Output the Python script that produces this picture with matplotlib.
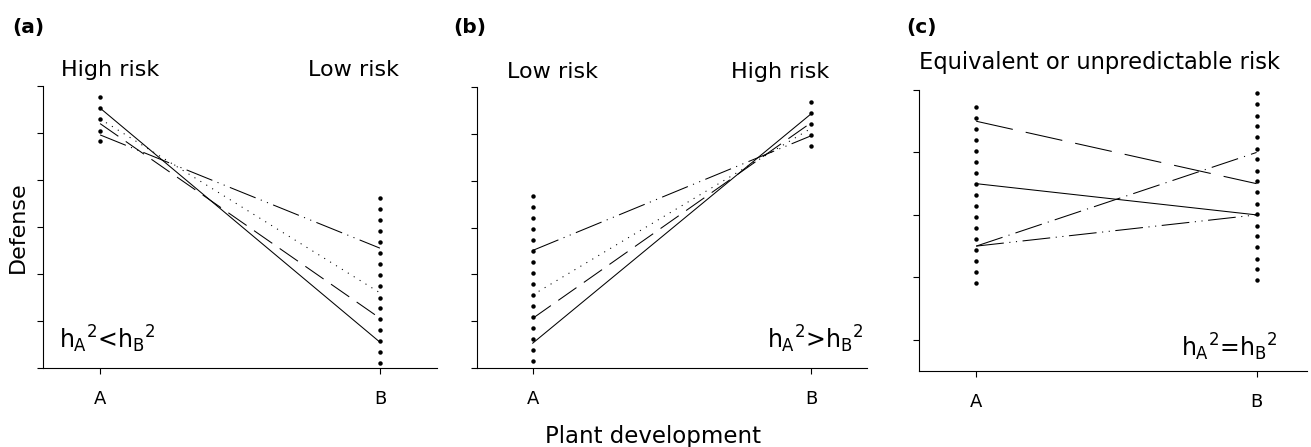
import matplotlib.pyplot as plt

plt.rcParams['font.family'] = ['DejaVu Sans']
plt.rcParams['mathtext.fontset'] = 'custom'
plt.rcParams['mathtext.rm'] = 'DejaVu Sans'
plt.rcParams['mathtext.it'] = 'DejaVu Sans'
plt.rcParams['mathtext.bf'] = 'DejaVu Sans:bold'
plt.rcParams['lines.scale_dashes'] = False

stages = ['A', 'B']

# (a) high risk at A, low risk at B
a_dots_A = [5.76, 5.53, 5.29, 5.05, 4.82]
a_dots_B = [3.61, 3.38, 3.14, 2.91, 2.68, 2.44, 2.21, 1.97, 1.74, 1.50,
            1.27, 1.04, 0.80, 0.57, 0.33, 0.10]
a_solid = [5.53, 0.55]
a_dotted = [5.30, 1.60]
a_dashed = [5.20, 1.06]
a_dashdotdot = [4.96, 2.55]

# (b) low risk at A, high risk at B
b_dots_A = [3.67, 3.43, 3.20, 2.96, 2.73, 2.50, 2.26, 2.03, 1.79, 1.56,
            1.33, 1.09, 0.86, 0.62, 0.39, 0.16]
b_dots_B = [5.68, 5.45, 5.21, 4.97, 4.74]
b_solid = [0.53, 5.43]
b_dotted = [1.56, 5.12]
b_dashed = [1.06, 5.24]
b_dashdotdot = [2.51, 4.96]

# (c) equivalent or unpredictable risk
c_dots_A = [4.73, 4.55, 4.38, 4.20, 4.02, 3.85, 3.67, 3.50, 3.32, 3.14,
            2.97, 2.79, 2.61, 2.44, 2.26, 2.09, 1.91]
c_dots_B = [4.95, 4.77, 4.59, 4.42, 4.24, 4.06, 3.89, 3.71, 3.54, 3.36,
            3.18, 3.01, 2.83, 2.66, 2.48, 2.30, 2.13, 1.95]
c_dashed = [4.5, 3.5]
c_solid = [3.5, 3.0]
c_dashdot = [2.5, 4.0]
c_dashdotdot = [2.5, 3.0]

# line styles (points, unscaled)
DOTTED = (0, (0.8, 4.2))
DASH_SHORT = (0, (16, 6.5))
DASH_LONG = (0, (27, 9.5))
DASHDOT = (0, (20, 4.5, 0.8, 4.5))
DASHDOTDOT = (0, (20, 4, 0.8, 4, 0.8, 4))

W, H = 1311, 447
fig = plt.figure(figsize=(W / 100, H / 100), dpi=100)


def box(l, t, r, b):
    return [l / W, (H - b) / H, (r - l) / W, (b - t) / H]


def px(x, y):
    return x / W, 1 - y / H


def panel(rect, dots_A, dots_B, lines, xlim, ylim, yticks):
    ax = fig.add_axes(rect)
    for vals, ls in lines:
        ax.plot([1, 2], vals, color='k', lw=0.75, ls=ls)
    ax.plot([1] * len(dots_A), dots_A, 'o', color='k', ms=3.2, mew=0, clip_on=False)
    ax.plot([2] * len(dots_B), dots_B, 'o', color='k', ms=3.2, mew=0, clip_on=False)
    ax.set_xlim(*xlim)
    ax.set_ylim(*ylim)
    ax.set_xticks([1, 2])
    ax.set_xticklabels(stages)
    ax.set_yticks(yticks)
    ax.set_yticklabels([])
    for s in ['top', 'right']:
        ax.spines[s].set_visible(False)
    for s in ['left', 'bottom']:
        ax.spines[s].set_linewidth(0.8)
    ax.tick_params(direction='out', length=4, width=0.8, labelsize=13, pad=12)
    return ax


panel(box(43, 86, 437, 368), a_dots_A, a_dots_B,
      [(a_solid, '-'), (a_dotted, DOTTED), (a_dashed, DASH_SHORT), (a_dashdotdot, DASHDOTDOT)],
      (0.796, 2.204), (0, 6), range(7))
panel(box(477, 87, 867, 368), b_dots_A, b_dots_B,
      [(b_solid, '-'), (b_dotted, DOTTED), (b_dashed, DASH_SHORT), (b_dashdotdot, DASHDOTDOT)],
      (0.8, 2.2), (0, 6), range(7))
panel(box(919, 90, 1307, 371), c_dots_A, c_dots_B,
      [(c_dashed, DASH_LONG), (c_solid, '-'), (c_dashdot, DASHDOT), (c_dashdotdot, DASHDOTDOT)],
      (0.796, 2.18), (0.5, 5), range(1, 6))

# panel letters
for x, s in [(12, '(a)'), (453, '(b)'), (906, '(c)')]:
    fig.text(*px(x, 27), s, fontsize=14.5, fontweight='bold', va='center', ha='left')

# risk headings
fs_head = 16
fig.text(*px(61, 70), 'High risk', fontsize=fs_head, va='center', ha='left')
fig.text(*px(399, 70), 'Low risk', fontsize=fs_head, va='center', ha='right')
fig.text(*px(507, 72), 'Low risk', fontsize=fs_head, va='center', ha='left')
fig.text(*px(829, 72), 'High risk', fontsize=fs_head, va='center', ha='right')
fig.text(*px(919, 62), 'Equivalent or unpredictable risk', fontsize=16.3, va='center', ha='left')

# heritability comparisons
fs_h = 17
fig.text(*px(59, 348), r'$h_A{}^2$<$h_B{}^2$', fontsize=fs_h, va='baseline', ha='left')
fig.text(*px(863, 348), r'$h_A{}^2$>$h_B{}^2$', fontsize=fs_h, va='baseline', ha='right')
fig.text(*px(1277, 356), r'$h_A{}^2$=$h_B{}^2$', fontsize=fs_h, va='baseline', ha='right')

fig.text(*px(18, 227), 'Defense', fontsize=16, rotation=90, va='center', ha='center')
fig.text(*px(653, 436), 'Plant development', fontsize=16.5, va='center', ha='center')

fig.savefig('out.png', dpi=100)
